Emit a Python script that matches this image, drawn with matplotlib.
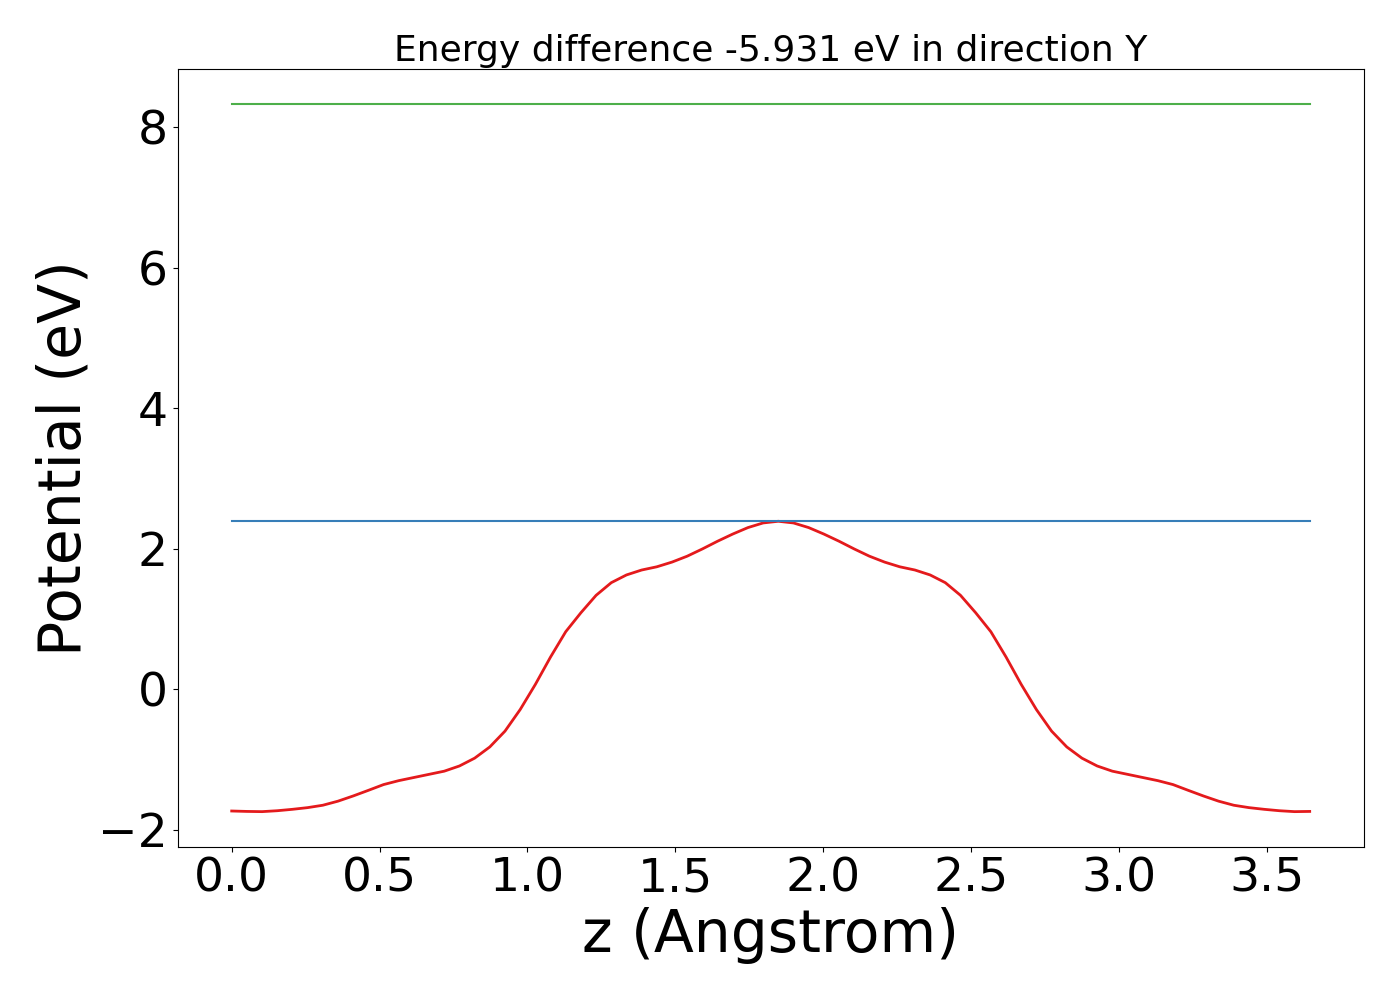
import numpy as np
import matplotlib
matplotlib.use('Agg')
import matplotlib.pyplot as plt

# z grid (Angstrom) and planar averaged potential (eV)
z = np.linspace(0.0, 3.645, 72)
potential = [
    -1.732, -1.738, -1.741, -1.728, -1.708, -1.684, -1.650, -1.592, -1.518,
    -1.438, -1.356, -1.300, -1.255, -1.210, -1.165, -1.091, -0.980, -0.820,
    -0.595, -0.288, 0.070, 0.460, 0.820, 1.090, 1.338, 1.518, 1.628, 1.698,
    1.744, 1.811, 1.895, 1.998, 2.108, 2.210, 2.302, 2.368, 2.392,
    2.368, 2.302, 2.210, 2.108, 1.998, 1.895, 1.811, 1.744, 1.698, 1.628,
    1.518, 1.338, 1.090, 0.820, 0.460, 0.070, -0.288, -0.595, -0.820, -0.980,
    -1.091, -1.165, -1.210, -1.255, -1.300, -1.356, -1.438, -1.518, -1.592,
    -1.650, -1.684, -1.708, -1.728, -1.741, -1.738,
]
level_low = 2.395
level_high = 8.326
title = 'Energy difference -5.931 eV in direction Y'
xticks = [0.0, 0.5, 1.0, 1.5, 2.0, 2.5, 3.0, 3.5]

fig, ax = plt.subplots(figsize=(14, 10), dpi=100)
ax.plot(z, potential, color='#e41a1c', lw=2)
ax.plot([z[0], z[-1]], [level_low, level_low], color='#377eb8', lw=1.5)
ax.plot([z[0], z[-1]], [level_high, level_high], color='#4daf4a', lw=1.5)

ax.set_xticks(xticks)
ax.set_xticklabels([f'{t:.1f}' for t in xticks])
ax.set_title(title, fontsize=26)
ax.set_xlabel('z (Angstrom)', fontsize=42)
ax.set_ylabel('Potential (eV)', fontsize=42)
ax.tick_params(labelsize=34)

plt.subplots_adjust(left=0.127, right=0.974, top=0.931, bottom=0.153)
plt.savefig('out.png')
plt.close()
